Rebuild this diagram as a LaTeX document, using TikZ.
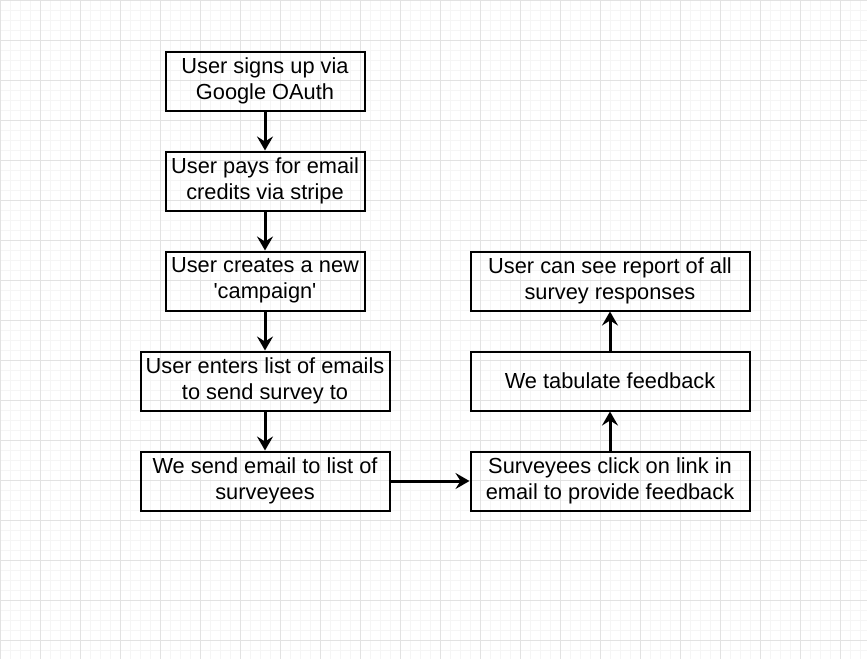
\documentclass[tikz,border=0pt]{standalone}
\usepackage{fontspec}
\setmainfont{Liberation Sans}
\usetikzlibrary{arrows.meta}
\definecolor{gmajor}{RGB}{226,226,226}
\definecolor{gminor}{RGB}{245,245,245}
\begin{document}
\begin{tikzpicture}[x=1pt,y=-1pt,
  box/.style={draw, line width=2pt, minimum height=59pt, align=center,
    font=\fontsize{21.8}{26}\selectfont, inner sep=0pt,
    execute at begin node={\rule{0pt}{19.5pt}},
    execute at end node={\rule[-5.5pt]{0pt}{5.5pt}}},
  conn/.style={line width=3pt, -{Stealth[length=14pt,width=16pt,inset=5pt]}}]
\useasboundingbox (0,0) rectangle (867,659);
\fill[white] (0,0) rectangle (867,659);
\foreach \x in {0,10,...,860} \draw[gminor, line width=1pt] (\x+0.5,0) -- (\x+0.5,659);
\foreach \y in {0,10,...,650} \draw[gminor, line width=1pt] (0,\y+0.5) -- (867,\y+0.5);
\foreach \x in {0,40,...,840} \draw[gmajor, line width=1pt] (\x+0.5,0) -- (\x+0.5,659);
\foreach \y in {0,40,...,640} \draw[gmajor, line width=1pt] (0,\y+0.5) -- (867,\y+0.5);

\node[box, minimum width=199pt] (b1) at (265,81) {User signs up via\\Google OAuth};
\node[box, minimum width=199pt] (b2) at (265,181) {User pays for email\\credits via stripe};
\node[box, minimum width=199pt] (b3) at (265,281) {User creates a new\\\textquotesingle campaign\textquotesingle};
\node[box, minimum width=249pt] (b4) at (265,381) {User enters list of emails\\to send survey to};
\node[box, minimum width=249pt] (b5) at (265,481) {We send email to list of\\surveyees};
\node[box, minimum width=279pt] (b6) at (610,481) {Surveyees click on link in\\email to provide feedback};
\node[box, minimum width=279pt] (b7) at (610,381) {We tabulate feedback};
\node[box, minimum width=279pt] (b8) at (610,281) {User can see report of all\\survey responses};

\draw[conn] (b1) -- (b2);
\draw[conn] (b2) -- (b3);
\draw[conn] (b3) -- (b4);
\draw[conn] (b4) -- (b5);
\draw[conn] (b5) -- (b6);
\draw[conn] (b6) -- (b7);
\draw[conn] (b7) -- (b8);
\end{tikzpicture}
\end{document}
